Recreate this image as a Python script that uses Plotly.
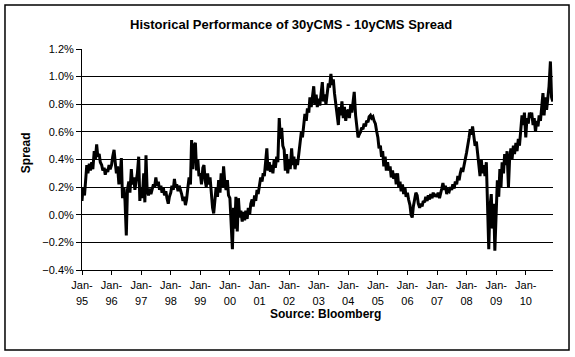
import plotly.graph_objects as go

# Semi-monthly readings (1st and 15th of each month), spread in %
v1995 = [0.10, 0.20, 0.14, 0.24, 0.36, 0.30, 0.37, 0.32, 0.38, 0.33, 0.46, 0.40,
         0.51, 0.42, 0.44, 0.38, 0.36, 0.32, 0.34, 0.29, 0.33, 0.31, 0.36, 0.33]
v1996 = [0.36, 0.42, 0.47, 0.38, 0.30, 0.35, 0.22, 0.28, 0.41, 0.12, 0.20, 0.10,
         -0.15, 0.18, 0.24, 0.16, 0.33, 0.22, 0.27, 0.18, 0.25, 0.30, 0.42, 0.10]
v1997 = [0.20, 0.12, 0.30, 0.09, 0.43, 0.18, 0.14, 0.19, 0.15, 0.18, 0.22, 0.20,
         0.27, 0.21, 0.24, 0.18, 0.21, 0.16, 0.20, 0.14, 0.17, 0.12, 0.08, 0.13]
v1998 = [0.16, 0.21, 0.18, 0.26, 0.20, 0.22, 0.17, 0.21, 0.18, 0.15, 0.10, 0.13,
         0.07, 0.11, 0.20, 0.27, 0.22, 0.54, 0.33, 0.50, 0.52, 0.32, 0.40, 0.28]
v1999 = [0.30, 0.22, 0.34, 0.36, 0.25, 0.20, 0.30, 0.22, 0.27, 0.15, 0.05, 0.01,
         0.14, 0.20, 0.13, 0.25, 0.16, 0.30, 0.20, 0.35, 0.22, 0.18, 0.25, 0.14]
v2000 = [0.12, -0.05, -0.25, 0.05, -0.10, 0.13, -0.12, 0.12, -0.02, 0.03, -0.05, 0.02,
         -0.04, 0.03, -0.03, 0.05, 0.00, 0.08, 0.11, 0.06, 0.14, 0.10, 0.18, 0.15]
v2001 = [0.22, 0.27, 0.24, 0.30, 0.28, 0.35, 0.48, 0.32, 0.38, 0.31, 0.36, 0.30,
         0.40, 0.34, 0.42, 0.38, 0.70, 0.55, 0.63, 0.50, 0.47, 0.32, 0.44, 0.30]
v2002 = [0.40, 0.33, 0.48, 0.36, 0.42, 0.33, 0.40, 0.36, 0.45, 0.52, 0.60, 0.56,
         0.66, 0.73, 0.68, 0.77, 0.74, 0.85, 0.78, 0.86, 0.93, 0.80, 0.87, 0.78]
v2003 = [0.84, 0.79, 0.88, 0.96, 0.82, 0.87, 0.80, 0.90, 0.95, 0.92, 1.02, 0.94,
         0.98, 0.88, 0.80, 0.70, 0.65, 0.78, 0.72, 0.82, 0.70, 0.78, 0.68, 0.74]
v2004 = [0.76, 0.70, 0.80, 0.74, 0.85, 0.89, 0.72, 0.62, 0.56, 0.58, 0.60, 0.63,
         0.62, 0.66, 0.64, 0.68, 0.67, 0.71, 0.72, 0.70, 0.71, 0.68, 0.66, 0.61]
v2005 = [0.56, 0.48, 0.50, 0.42, 0.46, 0.35, 0.42, 0.32, 0.38, 0.32, 0.35, 0.27,
         0.32, 0.26, 0.30, 0.22, 0.30, 0.20, 0.24, 0.17, 0.22, 0.15, 0.20, 0.13]
v2006 = [0.16, 0.11, 0.07, 0.00, -0.02, 0.06, 0.12, 0.16, 0.14, 0.08, 0.05, 0.08,
         0.06, 0.10, 0.09, 0.13, 0.10, 0.14, 0.11, 0.15, 0.12, 0.16, 0.13, 0.15]
v2007 = [0.13, 0.16, 0.12, 0.17, 0.19, 0.23, 0.18, 0.21, 0.15, 0.18, 0.17, 0.20,
         0.18, 0.22, 0.19, 0.24, 0.22, 0.28, 0.25, 0.30, 0.34, 0.31, 0.37, 0.40]
v2008 = [0.45, 0.52, 0.56, 0.62, 0.58, 0.64, 0.55, 0.50, 0.53, 0.45, 0.35, 0.28,
         0.40, 0.30, 0.36, 0.28, 0.38, 0.10, -0.25, 0.05, 0.15, -0.10, 0.08, -0.26]
v2009 = [0.05, 0.25, 0.13, 0.33, 0.20, 0.38, 0.30, 0.44, 0.36, 0.46, 0.20, 0.40,
         0.48, 0.40, 0.50, 0.44, 0.52, 0.46, 0.55, 0.50, 0.62, 0.72, 0.65, 0.74]
v2010 = [0.56, 0.70, 0.66, 0.74, 0.70, 0.74, 0.65, 0.70, 0.60, 0.68, 0.64, 0.72,
         0.68, 0.80, 0.88, 0.72, 0.85, 0.76, 0.83, 0.93, 1.11, 0.85, 0.82]

years = list(range(1995, 2011))
series_by_year = [v1995, v1996, v1997, v1998, v1999, v2000, v2001, v2002,
                  v2003, v2004, v2005, v2006, v2007, v2008, v2009, v2010]

tick_years = list(range(1995, 2011))
tick_labels = ["<span style='font-size:11px'>Jan-</span><br>"
               "<span style='font-size:11px'>%02d</span>" % (y % 100)
               for y in tick_years]

dates, values = [], []
for yr, vals in zip(years, series_by_year):
    for k, v in enumerate(vals):
        m = k // 2 + 1
        d = 1 if k % 2 == 0 else 15
        dates.append("%d-%02d-%02d" % (yr, m, d))
        values.append(v)

FONT = "Liberation Sans, Arial, sans-serif"

fig = go.Figure()
fig.add_trace(go.Scatter(x=dates, y=values, mode="lines",
                         line=dict(color="black", width=3), hoverinfo="skip",
                         showlegend=False))

fig.update_layout(
    width=575, height=357,
    margin=dict(l=82, r=22, t=49, b=87),
    paper_bgcolor="white", plot_bgcolor="white",
    font=dict(family=FONT, color="black"),
    xaxis=dict(type="date", range=["1995-01-01", "2010-12-03"],
               tickvals=["%d-01-01" % y for y in tick_years],
               ticktext=tick_labels,
               tickangle=0,
               showgrid=False, zeroline=False,
               showline=True, linecolor="black", linewidth=1,
               ticks="outside", ticklen=4, tickcolor="black", tickwidth=1,
               tickfont=dict(size=12, family=FONT, color="black")),
    yaxis=dict(range=[-0.4, 1.2], tick0=-0.4, dtick=0.2,
               tickformat=".1f", ticksuffix="%",
               showgrid=True, gridcolor="black", gridwidth=1,
               zeroline=False,
               showline=True, linecolor="black", linewidth=1,
               ticks="outside", ticklen=5, tickcolor="black", tickwidth=1,
               tickfont=dict(size=11, family=FONT, color="black")),
    annotations=[
        dict(text="<b>Historical Performance of 30yCMS - 10yCMS Spread</b>",
             xref="paper", yref="paper", x=0.4437, y=1.113,
             xanchor="center", yanchor="middle", showarrow=False,
             font=dict(size=13, family=FONT, color="black")),
        dict(text="<b>Spread</b>", textangle=-90,
             xref="paper", yref="paper", x=-0.12, y=0.531,
             xanchor="center", yanchor="middle", showarrow=False,
             font=dict(size=12, family=FONT, color="black")),
        dict(text="<b>Source: Bloomberg</b>",
             xref="paper", yref="paper", x=0.518, y=-0.199,
             xanchor="center", yanchor="middle", showarrow=False,
             font=dict(size=12, family=FONT, color="black")),
    ],
    shapes=[dict(type="rect", xref="paper", yref="paper",
                 x0=-0.1635, x1=1.034, y0=-0.362, y1=1.199,
                 line=dict(color="black", width=1.5))],
)

fig.write_html("out.html", config={"displayModeBar": False},
               post_script="document.body.style.margin='0';")
